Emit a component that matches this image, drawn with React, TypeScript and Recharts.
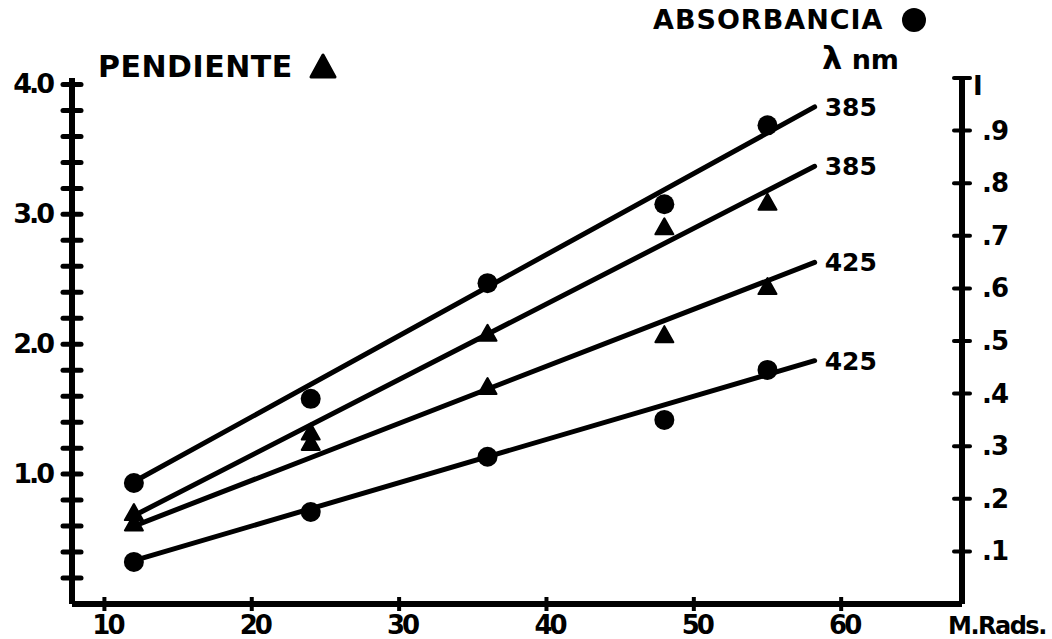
import React from 'react';
import { ComposedChart, Line, Scatter, XAxis, YAxis } from 'recharts';

// dose (M Rads) for each measurement
const doses = [12, 24, 36, 48, 55];
// absorbancia (right axis), circles
const absorb385 = [0.23, 0.39, 0.61, 0.76, 0.91];
const absorb425 = [0.08, 0.175, 0.28, 0.35, 0.445];
// pendiente (left axis), triangles
const slope385 = [0.7, 1.32, 2.08, 2.9, 3.09];
const slope425 = [0.62, 1.24, 1.67, 2.07, 2.44];

// hand drawn fit lines: start / end
const fitX = [12, 58.2];
const fitAbsorb385 = [0.2325, 0.945];
const fitSlope385 = [0.68, 3.37];
const fitSlope425 = [0.6, 2.63];
const fitAbsorb425 = [0.0825, 0.4625];

const xTicks = [10, 20, 30, 40, 50, 60];
const leftTicks = [0.2, 0.4, 0.6, 0.8, 1, 1.2, 1.4, 1.6, 1.8, 2, 2.2, 2.4, 2.6, 2.8, 3, 3.2, 3.4, 3.6, 3.8, 4];
const leftLabels = ['1.0', '2.0', '3.0', '4.0'];
const rightTicks = [0.1, 0.2, 0.3, 0.4, 0.5, 0.6, 0.7, 0.8, 0.9, 1];
const rightLabels = ['.1', '.2', '.3', '.4', '.5', '.6', '.7', '.8', '.9', 'I'];

const FONT = '"DejaVu Sans", sans-serif';

const toPoints = (xs: number[], ys: number[]) => xs.map((x, i) => ({ x, y: ys[i] }));

const LeftTick = (props: any) => {
  const { x, y, payload } = props;
  const v = payload.value;
  const idx = Math.round(v);
  const major = Math.abs(v - idx) < 0.001;
  return (
    <g>
      <line x1={x - 9} x2={x + 9} y1={y} y2={y} stroke="#000" strokeWidth={5} strokeLinecap="round" />
      {major && (
        <text x={x - 20} y={y + 9} textAnchor="end" fontFamily={FONT} fontWeight="bold" fontSize={27} letterSpacing={-3} fill="#000">
          {leftLabels[idx - 1]}
        </text>
      )}
    </g>
  );
};

const RightTick = (props: any) => {
  const { x, y, index } = props;
  const top = index === rightLabels.length - 1;
  return (
    <g>
      <line x1={x - 8} x2={x + 8} y1={y} y2={y} stroke="#000" strokeWidth={4} strokeLinecap="round" />
      <text x={top ? x + 11 : x + 20} y={top ? y + 17 : y + 9} textAnchor="start" fontFamily={FONT} fontWeight="bold" fontSize={26} letterSpacing={-1} fill="#000">
        {rightLabels[index]}
      </text>
    </g>
  );
};

const BottomTick = (props: any) => {
  const { x, y, payload } = props;
  return (
    <g>
      <line x1={x} x2={x} y1={y - 7} y2={y + 7} stroke="#000" strokeWidth={4} />
      <text x={x + 3} y={y + 30} textAnchor="middle" fontFamily={FONT} fontWeight="bold" fontSize={26} letterSpacing={-3} fill="#000">
        {payload.value}
      </text>
    </g>
  );
};

const Dot = (props: any) => <circle cx={props.cx} cy={props.cy} r={10} fill="#000" />;
const Tri = (props: any) => {
  const { cx, cy } = props;
  return <polygon points={`${cx - 9},${cy + 7} ${cx + 9},${cy + 7} ${cx},${cy - 9}`} fill="#000" stroke="#000" strokeWidth={2} strokeLinejoin="round" />;
};

const endLabel = (text: string) => (props: any) => {
  if (props.index !== 1) return null;
  return (
    <text x={props.x + 10} y={props.y + 9} fontFamily={FONT} fontWeight="bold" fontSize={25} fill="#000">
      {text}
    </text>
  );
};

export default function App() {
  const lineProps = { type: 'linear' as const, dataKey: 'y', stroke: '#000', strokeWidth: 5, strokeLinecap: 'round' as const, dot: false, isAnimationActive: false };
  return (
    <div style={{ position: 'absolute', left: 0, top: 0, width: 1052, height: 639, background: '#fff' }}>
      <ComposedChart width={1052} height={639} margin={{ top: 78, right: 0, bottom: 0, left: 0 }}>
        <XAxis
          dataKey="x"
          type="number"
          domain={[7.8, 68.2]}
          ticks={xTicks}
          height={35}
          tickSize={0}
          tickMargin={0}
          tickLine={false}
          axisLine={{ stroke: '#000', strokeWidth: 6 }}
          tick={<BottomTick />}
          allowDataOverflow
        />
        <YAxis
          yAxisId="left"
          dataKey="y"
          type="number"
          domain={[0, 4.05]}
          ticks={leftTicks}
          width={72}
          tickSize={0}
          tickMargin={0}
          tickLine={false}
          axisLine={{ stroke: '#000', strokeWidth: 6 }}
          tick={<LeftTick />}
          interval={0}
          allowDataOverflow
        />
        <YAxis
          yAxisId="right"
          orientation="right"
          dataKey="y"
          type="number"
          domain={[0, 1]}
          ticks={rightTicks}
          width={90}
          tickSize={0}
          tickMargin={0}
          tickLine={false}
          axisLine={{ stroke: '#000', strokeWidth: 6 }}
          tick={<RightTick />}
          interval={0}
          allowDataOverflow
        />
        <Line {...lineProps} yAxisId="right" data={toPoints(fitX, fitAbsorb385)} label={endLabel('385')} />
        <Line {...lineProps} yAxisId="left" data={toPoints(fitX, fitSlope385)} label={endLabel('385')} />
        <Line {...lineProps} yAxisId="left" data={toPoints(fitX, fitSlope425)} label={endLabel('425')} />
        <Line {...lineProps} yAxisId="right" data={toPoints(fitX, fitAbsorb425)} label={endLabel('425')} />
        <Scatter yAxisId="right" data={toPoints(doses, absorb385)} shape={<Dot />} isAnimationActive={false} />
        <Scatter yAxisId="right" data={toPoints(doses, absorb425)} shape={<Dot />} isAnimationActive={false} />
        <Scatter yAxisId="left" data={toPoints(doses, slope385)} shape={<Tri />} isAnimationActive={false} />
        <Scatter yAxisId="left" data={toPoints(doses, slope425)} shape={<Tri />} isAnimationActive={false} />
      </ComposedChart>
      <svg width={1052} height={639} style={{ position: 'absolute', left: 0, top: 0, pointerEvents: 'none' }}>
        <text x={98} y={77} fontFamily={FONT} fontWeight="bold" fontSize={30} letterSpacing={0.5} fill="#000">
          PENDIENTE
        </text>
        <polygon points="311,77 335,77 323,55" fill="#000" stroke="#000" strokeWidth={3} strokeLinejoin="round" />
        <text x={653} y={29} fontFamily={FONT} fontWeight="bold" fontSize={27} letterSpacing={1} fill="#000">
          ABSORBANCIA
        </text>
        <circle cx={914} cy={20} r={12} fill="#000" />
        <text x={822} y={69} fontFamily={FONT} fontWeight="bold" fill="#000">
          <tspan fontSize={32}>λ</tspan>
          <tspan fontSize={27}> nm</tspan>
        </text>
        <text x={948} y={634} fontFamily={FONT} fontWeight="bold" fontSize={24} letterSpacing={-1.5} fill="#000">
          M.Rads.
        </text>
      </svg>
    </div>
  );
}
